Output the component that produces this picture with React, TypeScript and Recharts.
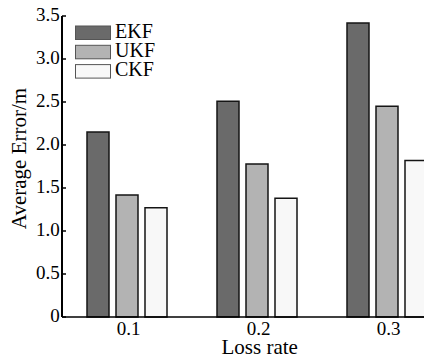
import React from 'react';
import { BarChart, Bar, XAxis, YAxis, Legend } from 'recharts';

const categories = ['0.1', '0.2', '0.3'];
const ekf = [2.15, 2.51, 3.42];
const ukf = [1.42, 1.78, 2.45];
const ckf = [1.27, 1.38, 1.82];
const yTicks = [0, 0.5, 1, 1.5, 2, 2.5, 3, 3.5];
const yTickLabels = ['0', '0.5', '1.0', '1.5', '2.0', '2.5', '3.0', '3.5'];
const seriesNames = ['EKF', 'UKF', 'CKF'];
const seriesColors = ['#6a6a6a', '#b3b3b3', '#f8f8f8'];

const data = categories.map((c, i) => ({ cat: c, EKF: ekf[i], UKF: ukf[i], CKF: ckf[i] }));

const FONT = '"Liberation Serif", "Times New Roman", serif';
const textStyle = { fontFamily: FONT };

const YTick = (props: any) => {
  const { x, y, payload } = props;
  const idx = yTicks.indexOf(payload.value);
  return (
    <g>
      <line x1={x} x2={x + 4} y1={y} y2={y} stroke="#000" strokeWidth={1.5} />
      <text x={x - 2.3} y={y} dy={5} textAnchor="end" style={textStyle} fontSize={19} fill="#000">
        {idx >= 0 ? yTickLabels[idx] : payload.value}
      </text>
    </g>
  );
};

const XTick = (props: any) => {
  const { x, y, payload } = props;
  return (
    <text x={x + 1.5} y={y} dy={18} textAnchor="middle" style={textStyle} fontSize={19} fill="#000">
      {payload.value}
    </text>
  );
};

const LegendContent = () => (
  <svg width={110} height={80} style={{ display: 'block' }}>
    {seriesNames.map((n, i) => (
      <g key={n}>
        <rect x={1.5} y={12 + 19.3 * i} width={35} height={13.5} fill={seriesColors[i]} stroke="#555" strokeWidth={1} />
        <text x={41} y={23.5 + 19.3 * i} style={textStyle} fontSize={20} fill="#000">
          {n}
        </text>
      </g>
    ))}
  </svg>
);

export default function App() {
  return (
    <div style={{ position: 'fixed', left: 0, top: 0, width: 424, height: 361, overflow: 'hidden', background: '#fff' }}>
      <div style={{ position: 'relative', width: 452, height: 361 }}>
        <BarChart
          width={452}
          height={361}
          data={data}
          margin={{ top: 16, right: 0, bottom: 0, left: 0 }}
          barSize={22}
          barGap={7}
        >
          <XAxis
            dataKey="cat"
            height={44}
            axisLine={{ stroke: '#000', strokeWidth: 1.5 }}
            tickLine={false}
            tickSize={0}
            tickMargin={0}
            tick={<XTick />}
            interval={0}
          />
          <YAxis
            width={62}
            domain={[0, 3.5]}
            ticks={yTicks}
            axisLine={{ stroke: '#000', strokeWidth: 2 }}
            tickLine={false}
            tickSize={0}
            tickMargin={0}
            tick={<YTick />}
            interval={0}
          />
          <Legend
            layout="horizontal"
            align="center"
            verticalAlign="middle"
            content={<LegendContent />}
            wrapperStyle={{ position: 'absolute', left: 74, top: 14, width: 110, height: 80 }}
          />
          {seriesNames.map((n, i) => (
            <Bar key={n} dataKey={n} fill={seriesColors[i]} stroke="#151515" strokeWidth={1.5} isAnimationActive={false} />
          ))}
        </BarChart>
        <svg width={452} height={361} style={{ position: 'absolute', left: 0, top: 0, pointerEvents: 'none' }}>
          <text x={259.7} y={354} textAnchor="middle" style={textStyle} fontSize={21} fill="#000">
            Loss rate
          </text>
          <text transform="translate(25.6,158.5) rotate(-90)" textAnchor="middle" style={textStyle} fontSize={21} fill="#000">
            Average Error/m
          </text>
        </svg>
      </div>
    </div>
  );
}
